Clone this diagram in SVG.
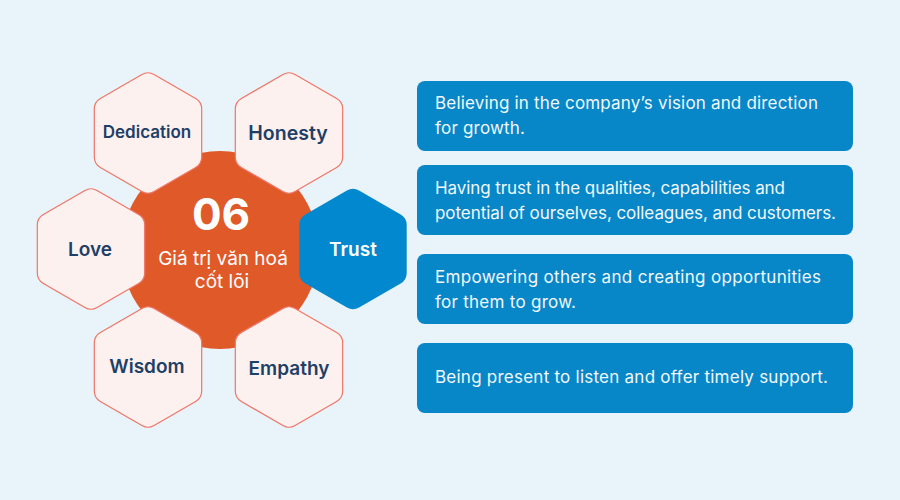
<svg xmlns="http://www.w3.org/2000/svg" xmlns:xlink="http://www.w3.org/1999/xlink" width="900" height="500" viewBox="0 0 900 500">
<style>
.hex{fill:#FCF1EF;stroke:#EF7667;stroke-width:1.2}
.hexb{fill:#0288CE}
.lbl{font-family:Inter,"Noto Sans",sans-serif;font-weight:600;fill:#1E4066;text-anchor:middle}
.lblw{font-family:Inter,"Noto Sans",sans-serif;font-weight:600;fill:#FFFFFF;text-anchor:middle}
.ctr{font-family:Inter,"Noto Sans",sans-serif;fill:#FFFFFF;text-anchor:middle}
.box{fill:#0787C8}
.bt{font-family:Inter,"Noto Sans",sans-serif;font-size:17px;fill:#F2F7FB}
</style>
<defs>
<path id="hx" d="M6.06,-58.5 L47.63,-34.5 Q53.69,-31 53.69,-24 L53.69,24 Q53.69,31 47.63,34.5 L6.06,58.5 Q0,62 -6.06,58.5 L-47.63,34.5 Q-53.69,31 -53.69,24 L-53.69,-24 Q-53.69,-31 -47.63,-34.5 L-6.06,-58.5 Q0,-62 6.06,-58.5 Z"/>
</defs>
<rect width="900" height="500" fill="#E8F3FA"/>
<g id="center">
<circle cx="220" cy="250" r="99" fill="#E05A29"/>
<text class="ctr" x="221" y="230" font-size="44" font-weight="700">06</text>
<text class="ctr" x="223" y="265" font-size="19">Giá trị văn hoá</text>
<text class="ctr" x="222" y="288" font-size="19">cốt lõi</text>
</g>
<g id="dedication">
<use xlink:href="#hx" href="#hx" class="hex" transform="translate(148,133)"/>
<text class="lbl" x="147" y="138" font-size="17">Dedication</text>
</g>
<g id="honesty">
<use xlink:href="#hx" href="#hx" class="hex" transform="translate(289,133)"/>
<text class="lbl" x="288" y="140" font-size="19.5">Honesty</text>
</g>
<g id="love">
<use xlink:href="#hx" href="#hx" class="hex" transform="translate(91,249)"/>
<text class="lbl" x="90" y="256" font-size="19">Love</text>
</g>
<g id="trust">
<use xlink:href="#hx" href="#hx" class="hexb" transform="translate(353,249)"/>
<text class="lblw" x="353" y="256" font-size="19">Trust</text>
</g>
<g id="wisdom">
<use xlink:href="#hx" href="#hx" class="hex" transform="translate(148,367)"/>
<text class="lbl" x="147" y="373" font-size="19">Wisdom</text>
</g>
<g id="empathy">
<use xlink:href="#hx" href="#hx" class="hex" transform="translate(289,367)"/>
<text class="lbl" x="289" y="375" font-size="19">Empathy</text>
</g>
<g id="box1">
<rect class="box" x="417" y="81" width="436" height="70" rx="8"/>
<text class="bt" x="435" y="109" textLength="383" lengthAdjust="spacing">Believing in the company’s vision and direction</text>
<text class="bt" x="435" y="134" textLength="90" lengthAdjust="spacing">for growth.</text>
</g>
<g id="box2">
<rect class="box" x="417" y="165" width="436" height="70" rx="8"/>
<text class="bt" x="435" y="194" textLength="350" lengthAdjust="spacing">Having trust in the qualities, capabilities and</text>
<text class="bt" x="435" y="219" textLength="401" lengthAdjust="spacing">potential of ourselves, colleagues, and customers.</text>
</g>
<g id="box3">
<rect class="box" x="417" y="254" width="436" height="70" rx="8"/>
<text class="bt" x="435" y="283" textLength="386" lengthAdjust="spacing">Empowering others and creating opportunities</text>
<text class="bt" x="435" y="308" textLength="141" lengthAdjust="spacing">for them to grow.</text>
</g>
<g id="box4">
<rect class="box" x="417" y="343" width="436" height="70" rx="8"/>
<text class="bt" x="435" y="383" textLength="393" lengthAdjust="spacing">Being present to listen and offer timely support.</text>
</g>
</svg>
